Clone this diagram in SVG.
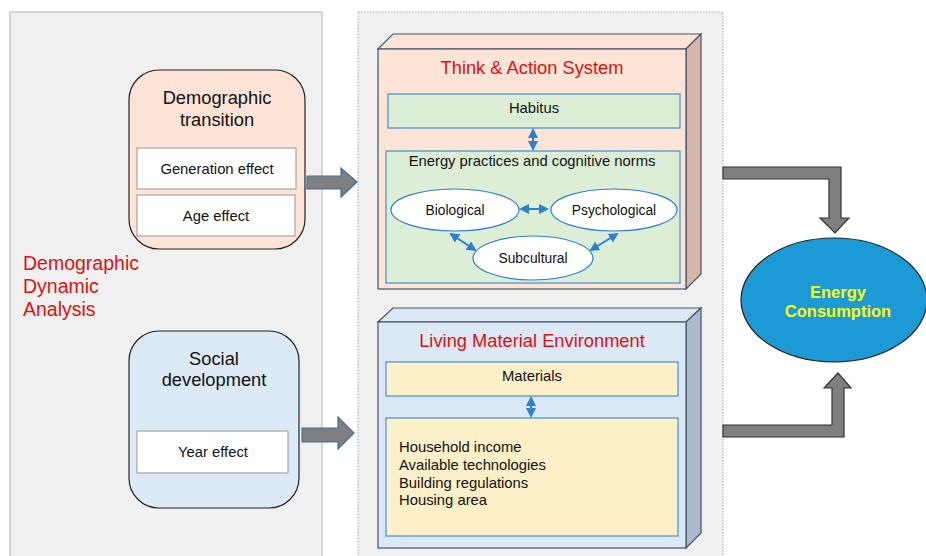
<svg xmlns="http://www.w3.org/2000/svg" width="926" height="556" viewBox="0 0 926 556">
  <defs>
    <style>
      text { font-family: "Liberation Sans", Arial, sans-serif; fill: #111; }
      .panel { fill: #f0f0f0; stroke: #b4b4b4; stroke-width: 1; }
      .panel-dot { fill: #f0f0f0; stroke: #a8a8a8; stroke-width: 1; stroke-dasharray: 1.5 1.5; }
      .peach { fill: #fde4d6; stroke: #222; stroke-width: 1.2; }
      .sky { fill: #dbeaf6; stroke: #222; stroke-width: 1.2; }
      .white { fill: #fff; stroke: #a6a6a6; stroke-width: 1.2; }
      .green { fill: #dcefd6; stroke: #3f8fd2; stroke-width: 1.2; }
      .cream { fill: #fdefc8; stroke: #3f8fd2; stroke-width: 1.2; }
      .oval { fill: #fff; stroke: #2f7fcf; stroke-width: 1.2; }
      .edge3d { stroke: #44546a; stroke-width: 1.2; }
      .red { fill: #e01010; }
      .t18 { font-size: 18.3px; }
      .t15 { font-size: 14.8px; }
      .t14 { font-size: 13.8px; }
      .mid { text-anchor: middle; }
      .link { stroke: #2f7fcf; stroke-width: 2; fill: none; marker-start: url(#tip); marker-end: url(#tip); }
      .fat { fill: #7f7f7f; stroke: #41719c; stroke-width: 1.2; }
      .elbow { fill: #7f7f7f; stroke: #333; stroke-width: 1.2; }
    </style>
    <marker id="tip" viewBox="0 0 10 10" refX="8" refY="5" markerWidth="5" markerHeight="5" orient="auto-start-reverse">
      <path d="M0,0 L10,5 L0,10 z" fill="#2f7fcf"/>
    </marker>
  </defs>

  <!-- background panels -->
  <rect class="panel" x="10" y="12" width="312" height="560"/>
  <rect class="panel-dot" x="358" y="12" width="365" height="560"/>

  <g id="dynamic-analysis">
    <text class="red" font-size="19.5" x="23" y="270">Demographic</text>
    <text class="red" font-size="19.5" x="23" y="293">Dynamic</text>
    <text class="red" font-size="19.5" x="23" y="316">Analysis</text>
  </g>

  <g id="demographic-transition">
    <rect class="peach" x="129" y="70" width="176" height="179" rx="30"/>
    <text class="t18 mid" x="217" y="104">Demographic</text>
    <text class="t18 mid" x="217" y="126">transition</text>
    <g id="generation-effect">
      <rect class="white" x="137" y="148" width="159" height="41"/>
      <text class="t15 mid" x="217" y="174">Generation effect</text>
    </g>
    <g id="age-effect">
      <rect class="white" x="137" y="195" width="158" height="41"/>
      <text class="t15 mid" x="216" y="221">Age effect</text>
    </g>
  </g>

  <g id="social-development">
    <rect class="sky" x="129" y="331" width="170" height="177" rx="30"/>
    <text class="t18 mid" x="214" y="365">Social</text>
    <text class="t18 mid" x="214" y="386">development</text>
    <g id="year-effect">
      <rect class="white" x="137" y="431" width="151" height="42"/>
      <text class="t15 mid" x="213" y="457">Year effect</text>
    </g>
  </g>

  <g id="think-action-system">
    <polygon points="378,49 393,34 701,34 686,49" fill="#fde4d6" class="edge3d"/>
    <polygon points="686,49 701,34 701,274 686,289" fill="#d4b6aa" class="edge3d"/>
    <rect x="378" y="49" width="308" height="240" fill="#fde4d6" class="edge3d"/>
    <text class="red t18 mid" x="532" y="74">Think &amp; Action System</text>
    <g id="habitus">
      <rect class="green" x="388" y="94" width="292" height="34"/>
      <text class="t15 mid" x="534" y="113">Habitus</text>
    </g>
    <g id="energy-practices">
      <rect class="green" x="386" y="151" width="294" height="132"/>
      <text class="t15 mid" x="532" y="166">Energy practices and cognitive norms</text>
    </g>
    <g id="biological">
      <ellipse class="oval" cx="455" cy="210" rx="64" ry="21"/>
      <text class="t14 mid" x="455" y="215">Biological</text>
    </g>
    <g id="psychological">
      <ellipse class="oval" cx="614" cy="210" rx="63" ry="21"/>
      <text class="t14 mid" x="614" y="215">Psychological</text>
    </g>
    <g id="subcultural">
      <ellipse class="oval" cx="533" cy="258" rx="60" ry="22"/>
      <text class="t14 mid" x="533" y="263">Subcultural</text>
    </g>
  </g>

  <g id="living-material-environment">
    <polygon points="378,322 393,308 701,308 686,322" fill="#dbe9f6" class="edge3d"/>
    <polygon points="686,322 701,308 701,533 686,548" fill="#adbacb" class="edge3d"/>
    <rect x="378" y="322" width="308" height="226" fill="#dbe9f6" class="edge3d"/>
    <text class="red t18 mid" x="532" y="347">Living Material Environment</text>
    <g id="materials">
      <rect class="cream" x="386" y="362" width="292" height="34"/>
      <text class="t15 mid" x="532" y="381">Materials</text>
    </g>
    <g id="material-factors">
      <rect class="cream" x="386" y="418" width="292" height="118"/>
      <text class="t15" x="399" y="452">Household income</text>
      <text class="t15" x="399" y="470">Available technologies</text>
      <text class="t15" x="399" y="488">Building regulations</text>
      <text class="t15" x="399" y="505">Housing area</text>
    </g>
  </g>

  <g id="energy-consumption">
    <ellipse cx="834" cy="300" rx="93" ry="62" fill="#1b9ad6" stroke="#222" stroke-width="1.2"/>
    <text class="mid" x="838" y="298" font-size="16.5" font-weight="bold" style="fill:#ffff00">Energy</text>
    <text class="mid" x="838" y="317" font-size="16.5" font-weight="bold" style="fill:#ffff00">Consumption</text>
  </g>

  <g id="connectors">
    <!-- block arrows into the two systems -->
    <polygon class="fat" points="307,176 341,176 341,168 357,182 341,197 341,189 307,189"/>
    <polygon class="fat" points="302,428 338,428 338,417 354,433 338,449 338,442 302,442"/>
    <!-- inner two-way links -->
    <line class="link" x1="533" y1="130" x2="533" y2="149"/>
    <line class="link" x1="521" y1="209" x2="547" y2="209"/>
    <line class="link" x1="451" y1="234" x2="475" y2="250"/>
    <line class="link" x1="617" y1="234" x2="591" y2="250"/>
    <line class="link" x1="531" y1="398" x2="531" y2="416"/>
    <!-- elbow arrows into energy consumption -->
    <polygon class="elbow" points="723,167 841,167 841,218 849,218 835,233 820,218 829,218 829,179 723,179"/>
    <polygon class="elbow" points="723,437 844,437 844,388 851,388 838,373 824,388 832,388 832,425 723,425"/>
  </g>
</svg>
